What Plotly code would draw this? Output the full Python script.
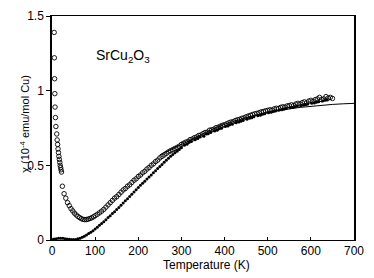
import plotly.graph_objects as go

# Open circles: raw susceptibility (10^-4 emu/mol Cu)
circ_T = [5, 5.5, 6, 6.5, 7, 8, 9, 11, 12, 13, 14, 15, 16, 17, 18, 19, 20, 21, 22,
          24, 28, 32, 36, 40, 44, 48, 52, 56, 60, 64, 68, 72, 76, 80, 84, 88, 92, 96,
          100, 105, 110, 115, 120, 125, 130, 135, 140, 145, 150, 155, 160, 165, 170,
          175, 180, 185, 190, 195, 200, 205, 210, 215, 220, 225, 230, 235, 240, 245,
          250, 255, 260, 265, 270, 275, 280, 285, 290, 295,
          300, 305, 310, 315, 320, 325, 330, 335, 340, 345, 350, 355, 360, 365, 370,
          375, 380, 385, 390, 395, 400, 405, 410, 415, 420, 425, 430, 435, 440, 445,
          450, 455, 460, 465, 470, 475, 480, 485, 490, 495, 500, 505, 510, 515, 520,
          525, 530, 535, 540, 545, 550, 555, 560, 565, 570, 575, 580, 585, 590, 595,
          600, 605, 610, 615, 620, 625, 630, 635, 640, 645, 650]
circ_chi = [1.39, 1.22, 1.08, 0.98, 0.89, 0.82, 0.76, 0.71, 0.67, 0.64, 0.61, 0.585,
            0.56, 0.54, 0.52, 0.50, 0.485, 0.47, 0.455,
            0.36, 0.31, 0.28, 0.25, 0.23, 0.21, 0.195, 0.18, 0.168, 0.158, 0.15, 0.143,
            0.138, 0.136, 0.137, 0.14, 0.144, 0.149, 0.155,
            0.163, 0.172, 0.182, 0.193, 0.205, 0.22, 0.235, 0.25, 0.265, 0.28, 0.29,
            0.305, 0.32, 0.335, 0.345, 0.36, 0.37, 0.385, 0.40, 0.41, 0.425, 0.435,
            0.45, 0.46, 0.475, 0.485, 0.50, 0.51, 0.525, 0.535, 0.55, 0.56, 0.57, 0.58,
            0.59, 0.598, 0.605, 0.613, 0.62, 0.628,
            0.64, 0.648, 0.655, 0.66, 0.672, 0.676, 0.685, 0.69, 0.70, 0.703, 0.712,
            0.72, 0.722, 0.735, 0.738, 0.742, 0.752, 0.755, 0.762, 0.768, 0.772, 0.778,
            0.785, 0.79, 0.792, 0.80, 0.805, 0.808, 0.815, 0.818, 0.825, 0.83, 0.835,
            0.84, 0.845, 0.848, 0.852, 0.858, 0.86, 0.865, 0.868, 0.872, 0.87, 0.878,
            0.882, 0.88, 0.888, 0.892, 0.89, 0.898, 0.90, 0.905, 0.90, 0.91, 0.915,
            0.91, 0.92, 0.925, 0.918, 0.93, 0.935, 0.928, 0.94, 0.945, 0.955, 0.94,
            0.945, 0.96, 0.95, 0.955, 0.948]

# Small filled dots: corrected (spin) susceptibility
dot_T = [0, 5, 10, 15, 20, 25, 30, 35, 40, 45, 50, 55, 60, 65, 70, 75, 80, 85, 90, 95,
         100, 105, 110, 115, 120, 125, 130, 135, 140, 145, 150, 155, 160, 165, 170,
         175, 180, 185, 190, 195, 200, 205, 210, 215, 220, 225, 230, 235, 240, 245,
         250, 255, 260, 265, 270, 275, 280, 285, 290, 295,
         300, 307, 313, 318, 323, 332, 338, 343, 352, 358, 362, 368, 377, 383, 388,
         393, 402, 408, 412, 418, 427, 433, 438, 443, 452, 458, 463, 468, 477, 483,
         488, 493, 502, 508, 513, 518, 527, 533, 538, 543, 552, 558, 563, 568, 577,
         583, 588, 593, 602, 608, 613, 618, 627, 633, 638]
dot_chi = [0.003, 0.006, 0.009, 0.011, 0.012, 0.011, 0.009, 0.007, 0.005, 0.004, 0.003,
           0.004, 0.008, 0.012, 0.018, 0.025, 0.034, 0.043, 0.052, 0.062,
           0.073, 0.085, 0.098, 0.11, 0.123, 0.136, 0.15, 0.163, 0.177, 0.19, 0.204,
           0.218, 0.232, 0.247, 0.262, 0.277, 0.292, 0.307, 0.322, 0.337, 0.352, 0.366,
           0.38, 0.394, 0.408, 0.422, 0.436, 0.45, 0.464, 0.478, 0.492, 0.506, 0.52,
           0.534, 0.548, 0.56, 0.572, 0.584, 0.595, 0.606,
           0.617, 0.635, 0.642, 0.655, 0.66, 0.672, 0.68, 0.69, 0.695, 0.71, 0.712,
           0.72, 0.73, 0.735, 0.745, 0.748, 0.76, 0.763, 0.772, 0.775, 0.785, 0.79,
           0.795, 0.80, 0.808, 0.815, 0.818, 0.825, 0.832, 0.835, 0.842, 0.845, 0.852,
           0.855, 0.86, 0.864, 0.87, 0.872, 0.878, 0.88, 0.886, 0.888, 0.892, 0.895,
           0.90, 0.903, 0.908, 0.91, 0.915, 0.918, 0.922, 0.925, 0.93, 0.935, 0.938]

# Solid theoretical curve
fit_T = [250, 275, 300, 325, 350, 375, 400, 425, 450, 475, 500, 525, 550, 575, 600,
         625, 650, 675, 700]
fit_chi = [0.57, 0.605, 0.64, 0.678, 0.712, 0.745, 0.775, 0.80, 0.82, 0.838, 0.853,
           0.867, 0.878, 0.888, 0.896, 0.903, 0.908, 0.912, 0.915]

x_ticks = [0, 100, 200, 300, 400, 500, 600, 700]
y_ticks = [0, 0.5, 1, 1.5]
y_ticktext = ["0", "0.5", "1", "1.5"]

FONT = "Liberation Sans, Arial, sans-serif"

fig = go.Figure()
fig.add_trace(go.Scatter(
    x=fit_T, y=fit_chi, mode="lines",
    line=dict(color="black", width=1), showlegend=False))
fig.add_trace(go.Scatter(
    x=dot_T, y=dot_chi, mode="markers",
    marker=dict(color="black", size=3, line=dict(width=0)), showlegend=False))
fig.add_trace(go.Scatter(
    x=circ_T, y=circ_chi, mode="markers",
    marker=dict(symbol="circle-open", color="black", size=4.5,
                line=dict(width=0.9, color="black")),
    showlegend=False))

# page body has an 8px default margin, so the figure is 8px smaller and offset
fig.update_layout(
    width=366, height=270,
    margin=dict(l=44, r=20, t=8, b=38, autoexpand=False),
    paper_bgcolor="white", plot_bgcolor="white",
    font=dict(family=FONT, color="black", size=11),
    xaxis=dict(range=[0, 700], tickvals=x_ticks, ticks="inside", ticklen=3,
               tickcolor="black", showline=True, linecolor="black", linewidth=1,
               mirror=True, showgrid=False, zeroline=False,
               tickfont=dict(size=12)),
    yaxis=dict(range=[0, 1.5], tickvals=y_ticks, ticktext=y_ticktext,
               ticks="outside", ticklen=4, tickcolor="black", showline=True,
               linecolor="black", linewidth=1.5, mirror=True, showgrid=False,
               zeroline=False, tickfont=dict(size=12)),
    annotations=[
        dict(text="SrCu<sub>2</sub>O<sub>3</sub>", x=165, y=1.23, xref="x", yref="y",
             showarrow=False, font=dict(size=14), xanchor="center", yanchor="middle"),
        dict(text="Temperature (K)", x=0.51, y=-0.112, xref="paper", yref="paper",
             showarrow=False, font=dict(size=12), xanchor="center", yanchor="middle"),
        dict(text="χ (10<sup>-4</sup> emu/mol Cu)", x=-0.092, y=0.52, xref="paper",
             yref="paper", showarrow=False, textangle=-90, font=dict(size=11),
             xanchor="center", yanchor="middle"),
    ],
)

fig.write_html("out.html")
